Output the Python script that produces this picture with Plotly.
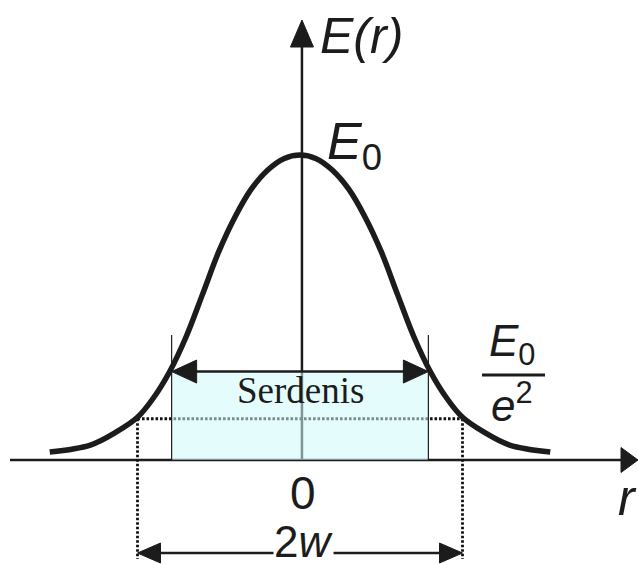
import plotly.graph_objects as go

# Field profile of the beam, r in units of w, E in units of E0 (right half, mirrored)
r_half = [0.0, 0.1, 0.2, 0.3, 0.4, 0.5, 0.6, 0.7, 0.8, 0.9, 1.0, 1.13, 1.29, 1.54]
e_half = [1.0, 0.988, 0.95, 0.888, 0.797, 0.683, 0.543, 0.405, 0.292, 0.205, 0.14, 0.092, 0.049, 0.026]

r_vals = [-v for v in r_half[:0:-1]] + r_half
e_vals = e_half[:0:-1] + e_half

E0 = 1.0
E0_OVER_E2 = 0.1353          # E0 / e^2 level
W = 1.0                      # beam radius
BOX_HALF = 0.79              # half width of the shaded "Serdenis" band
BOX_ARROW_LEVEL = 0.29
BOX_EDGE_TOP = 0.41
DIM_LEVEL = -0.305           # level of the 2w dimension arrow

# canvas geometry
WIDTH, HEIGHT = 638, 564
X0_PX, PX_PER_W = 300.0, 162.5
Y0_PX, PX_PER_E = 460.0, 305.0

def rx(px):
    return (px - X0_PX) / PX_PER_W

def ey(py):
    return (Y0_PX - py) / PX_PER_E

def dx(px):
    return px / PX_PER_W

def dy(px):
    return px / PX_PER_E

INK = "#1c1c1c"
MATH_FONT = "Liberation Sans, Arial, sans-serif"

fig = go.Figure()

shapes = []

def seg(x0, y0, x1, y1, width=2.0, color=INK, dash=None, layer="above"):
    line = dict(color=color, width=width)
    if dash:
        line["dash"] = dash
    shapes.append(dict(type="line", x0=x0, y0=y0, x1=x1, y1=y1,
                       line=line, layer=layer))

def tri(points, layer="above"):
    p = "M " + " L ".join(f"{x},{y}" for x, y in points) + " Z"
    shapes.append(dict(type="path", path=p, fillcolor=INK,
                       line=dict(color=INK, width=1), layer=layer))

def head_right(x, y, length, half):
    tri([(x, y), (x - dx(length), y + dy(half)), (x - dx(length), y - dy(half))])

def head_left(x, y, length, half):
    tri([(x, y), (x + dx(length), y + dy(half)), (x + dx(length), y - dy(half))])

def head_up(x, y, length, half):
    tri([(x, y), (x - dx(half), y - dy(length)), (x + dx(half), y - dy(length))])

# axes
seg(rx(10), 0, rx(624), 0, width=2.5, layer="below")
seg(0.012, 0, 0.012, ey(40), width=2.5, layer="below")
head_right(rx(638), 0, 17, 12.5)
head_up(0.012, ey(20), 27, 11.5)

# dotted guide lines at the E0/e^2 level and at r = ±w
dots = "2.6px,1.9px"
seg(-W, E0_OVER_E2, W, E0_OVER_E2, width=2.8, dash=dots, color="#111111", layer="below")
seg(-W, E0_OVER_E2, -W, DIM_LEVEL - dy(6), width=2.8, dash=dots, color="#111111", layer="below")
seg(W, E0_OVER_E2, W, DIM_LEVEL - dy(6), width=2.8, dash=dots, color="#111111", layer="below")

# shaded band
shapes.append(dict(type="rect", x0=-BOX_HALF, x1=BOX_HALF, y0=0, y1=BOX_ARROW_LEVEL,
                   fillcolor="rgba(205,250,250,0.55)", line=dict(width=0),
                   layer="below"))
seg(-BOX_HALF, 0, -BOX_HALF, BOX_EDGE_TOP, width=1.2)
seg(BOX_HALF, 0, BOX_HALF, BOX_EDGE_TOP, width=1.2)

# band width arrow
seg(-BOX_HALF + dx(20), BOX_ARROW_LEVEL, BOX_HALF - dx(20), BOX_ARROW_LEVEL, width=2.5)
head_left(-BOX_HALF, BOX_ARROW_LEVEL, 25, 11.5)
head_right(BOX_HALF, BOX_ARROW_LEVEL, 25, 11.5)

# 2w dimension arrow
seg(-W + dx(18), DIM_LEVEL, W - dx(18), DIM_LEVEL, width=2.5)
head_left(-W, DIM_LEVEL, 23, 10)
head_right(W, DIM_LEVEL, 23, 10)

# fraction bar of E0/e^2
seg(rx(482), ey(375), rx(545), ey(375), width=3)

# beam profile
fig.add_trace(go.Scatter(x=r_vals, y=[v * E0 for v in e_vals], mode="lines",
                         line=dict(color=INK, width=5.5, shape="spline", smoothing=1.0),
                         hoverinfo="skip"))

def label(text, x, y, size, xanchor="center", family=MATH_FONT, **kw):
    return dict(text=text, x=x, y=y, xref="x", yref="y", showarrow=False,
                xanchor=xanchor, yanchor="middle",
                font=dict(family=family, size=size, color=INK), **kw)

annotations = [
    label("<i>E(r)</i>", rx(361), ey(36), 50),
    label("<i>E</i><sub>0</sub>", rx(325), ey(145), 52, xanchor="left"),
    label("<i>E</i><sub>0</sub>", rx(512), ey(344), 44),
    label("<i>e</i><sup>2</sup>", rx(512), ey(402), 44),
    label("0", rx(303), ey(493), 46),
    label("2<i>w</i>", rx(303), ey(541), 44, bgcolor="white", borderpad=0),
    label("<i>r</i>", rx(627), ey(498), 50),
    label("Serdenis", rx(300), ey(390), 37,
          family="Liberation Serif, Times New Roman, serif"),
]

fig.update_layout(
    width=WIDTH, height=HEIGHT,
    margin=dict(l=0, r=0, t=0, b=0),
    paper_bgcolor="white", plot_bgcolor="white",
    showlegend=False,
    xaxis=dict(range=[rx(0), rx(WIDTH)], visible=False, fixedrange=True),
    yaxis=dict(range=[ey(HEIGHT), ey(0)], visible=False, fixedrange=True),
    shapes=shapes,
    annotations=annotations,
)

fig.write_html("out.html")
